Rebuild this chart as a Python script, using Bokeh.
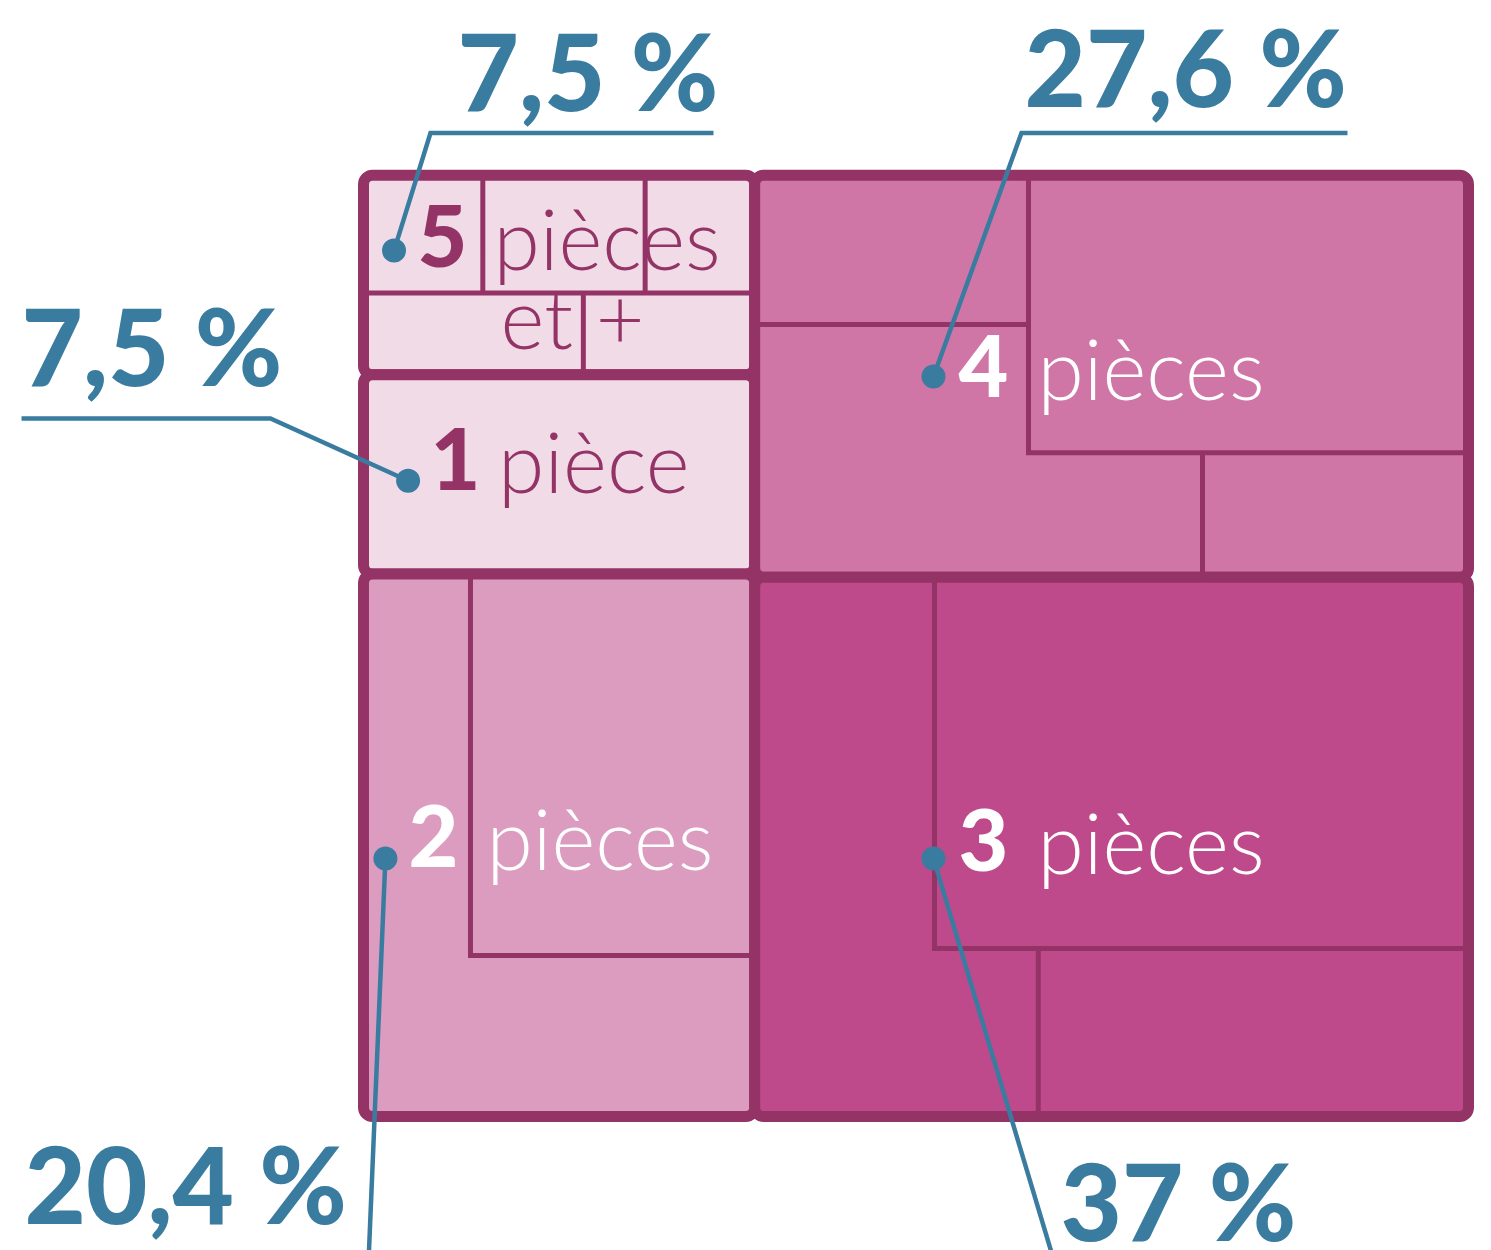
from bokeh.plotting import figure
from bokeh.models import Range1d, ColumnDataSource
from bokeh.core.properties import value
from bokeh.embed import file_html
from bokeh.resources import INLINE

# ---------------- data ----------------
categories = ["1 pièce", "2 pièces", "3 pièces", "4 pièces", "5 pièces et +"]
shares = [7.5, 20.4, 37.0, 27.6, 7.5]
share_labels = ["7,5 %", "20,4 %", "37 %", "27,6 %", "7,5 %"]

# ---------------- style / layout ----------------
BLUE = "#3a7c9f"
WALL = "#943366"
fills = ["#f1dbe7", "#dc9cc0", "#bf4a8b", "#cf76a7", "#f1dbe7"]
label_colors = [WALL, "white", "white", "white", WALL]
BASE_SHIFT = 0.375  # em correction so that y is the text baseline

# treemap columns (indexes into categories, top to bottom)
columns = [[4, 0, 1], [3, 2]]
X0, X1, Y0, Y1 = 363.0, 1468.0, 174.7, 1116.0

# dot anchor inside each block (fractions of block width/height)
dot_frac = {0: (0.114, 0.532), 1: (0.056, 0.5245), 2: (0.2505, 0.5216),
            3: (0.2505, 0.5007), 4: (0.078, 0.378)}
# number / word offsets from the dot (screen px)
num_off = {0: (22.5, 11), 1: (23, 10), 2: (25, 14), 3: (25, 22), 4: (23.5, 18)}
word_dx = {0: 90, 1: 101, 2: 104, 3: 104, 4: 99.5}

# interior "walls" of each room, as fractions of the block: list of polylines
walls = {
    4: [[(0, 0.591), (1, 0.591)], [(0.305, 0), (0.305, 0.591)],
        [(0.72, 0), (0.72, 0.591)], [(0.562, 0.591), (0.562, 1)]],
    0: [],
    1: [[(0.2735, 0), (0.2735, 0.703), (1, 0.703)]],
    3: [[(0.3836, 0), (0.3836, 0.69), (1, 0.69)], [(0, 0.3714), (0.3836, 0.3714)],
        [(0.6274, 0.69), (0.6274, 1)]],
    2: [[(0.2519, 0), (0.2519, 0.6885), (1, 0.6885)], [(0.3973, 0.6885), (0.3973, 1)]],
}

# callout placement: label (left x, baseline y) and leader path from dot
callout_pos = {4: (457, 109.5), 0: (21, 384.5), 3: (1024, 105.5), 1: (24, 1222), 2: (1060, 1239.5)}
callout_path = {
    4: [(430, 132.5), (713, 132.5)],
    0: [(270, 418), (21, 418)],
    3: [(1021, 132.5), (1347, 132.5)],
    1: [(368, 1262)],
    2: [(1054, 1262)],
}

NUM_SIZE, WORD_SIZE, PCT_SIZE = 86, 84, 106

# ---------------- treemap layout from shares ----------------
total = sum(shares)
rects = {}
cx = X0
for col in columns:
    col_sum = sum(shares[i] for i in col)
    w = (X1 - X0) * col_sum / total
    cy = Y0
    for i in col:
        h = (Y1 - Y0) * shares[i] / col_sum
        rects[i] = (cx, cx + w, cy, cy + h)
        cy += h
    cx += w

order = [4, 0, 1, 3, 2]

p = figure(width=1491, height=1250, x_range=Range1d(0, 1491), y_range=Range1d(1250, 0),
           output_backend="svg", toolbar_location=None, min_border=0,
           background_fill_color="white", border_fill_color="white")
p.axis.visible = False
p.grid.visible = False
p.outline_line_color = None

src = ColumnDataSource(dict(
    left=[rects[i][0] for i in order], right=[rects[i][1] for i in order],
    top=[rects[i][2] for i in order], bottom=[rects[i][3] for i in order],
    fill=[fills[i] for i in order]))
p.quad(left="left", right="right", top="top", bottom="bottom", source=src,
       fill_color="fill", line_color=WALL, line_width=11, border_radius=9)

# interior walls
wx, wy = [], []
for i in order:
    l, r, t, b = rects[i]
    for poly in walls[i]:
        wx.append([l + fx * (r - l) for fx, fy in poly])
        wy.append([t + fy * (b - t) for fx, fy in poly])
p.multi_line(wx, wy, line_color=WALL, line_width=5, line_join="miter", line_cap="butt")

# dots, labels
dots = {}
for i in order:
    l, r, t, b = rects[i]
    fx, fy = dot_frac[i]
    dots[i] = (l + fx * (r - l), t + fy * (b - t))

num_x, num_y, num_t, num_c = [], [], [], []
wd_x, wd_y, wd_t, wd_c = [], [], [], []
for i in order:
    dx, dy = dots[i]
    number, rest = categories[i].split(" ", 1)
    lines = rest.split(" ", 1) if " et" in rest else [rest]
    ox, oy = num_off[i]
    base = dy + oy
    num_x.append(dx + ox); num_y.append(base - BASE_SHIFT * NUM_SIZE)
    num_t.append(number); num_c.append(label_colors[i])
    for k, ln in enumerate(lines):
        wd_x.append(dx + word_dx[i] + (7 if k else 0))
        wd_y.append(base + 79 * k - BASE_SHIFT * WORD_SIZE)
        wd_t.append(ln); wd_c.append(label_colors[i])

p.text(x=num_x, y=num_y, text=num_t, text_color=num_c, text_font=value("Lato Black"),
       text_font_size=f"{NUM_SIZE}px", text_baseline="alphabetic", text_align="left")
p.text(x=wd_x, y=wd_y, text=wd_t, text_color=wd_c, text_font=value("Lato Light"),
       text_font_size=f"{WORD_SIZE}px", text_baseline="alphabetic", text_align="left")

# leaders
lx, ly = [], []
for i in order:
    pts = [dots[i]] + callout_path[i]
    lx.append([q[0] for q in pts]); ly.append([q[1] for q in pts])
p.multi_line(lx, ly, line_color=BLUE, line_width=4.5, line_join="miter")
p.scatter([dots[i][0] for i in order], [dots[i][1] for i in order], size=24,
          fill_color=BLUE, line_color=None)

p.text(x=[callout_pos[i][0] for i in order],
       y=[callout_pos[i][1] - BASE_SHIFT * PCT_SIZE for i in order],
       text=[share_labels[i] for i in order], text_color=BLUE, text_font=value("Lato Black"),
       text_font_size=f"{PCT_SIZE}px", text_baseline="alphabetic", text_align="left")

open("out.html", "w").write(file_html(p, INLINE))
